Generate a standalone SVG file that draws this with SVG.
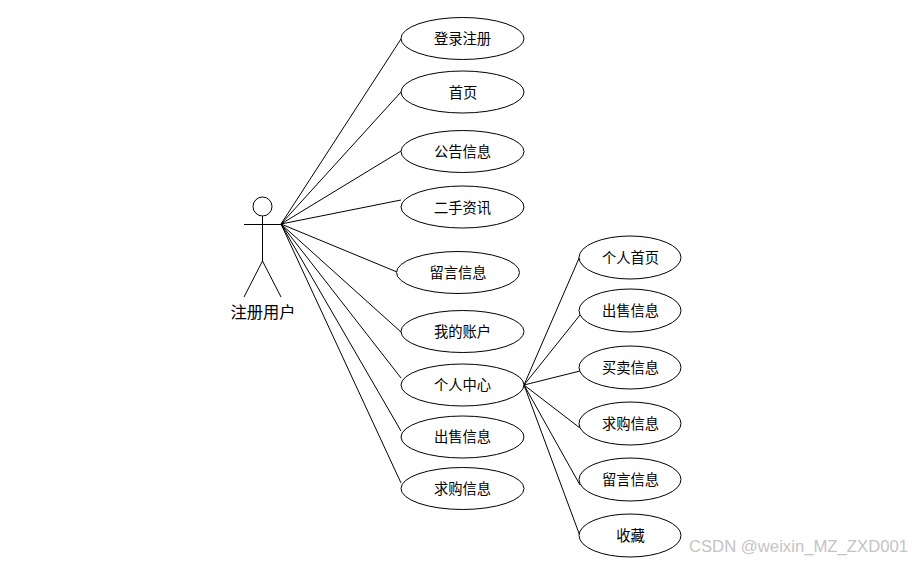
<svg xmlns="http://www.w3.org/2000/svg" width="912" height="562" viewBox="0 0 912 562">
<style>
text{font-family:"Liberation Sans","Noto Sans CJK SC",sans-serif;fill:#000;text-anchor:middle}
.n text{font-size:14.300px}
ellipse{fill:#fff;stroke:#000;stroke-width:1}
.l line,.a line,.a circle{stroke:#000;stroke-width:1;fill:#fff}
</style>
<rect width="912" height="562" fill="#fff"/>
<g id="connectors" class="l">
<line x1="281" y1="224" x2="401" y2="39"/>
<line x1="281" y1="224" x2="401" y2="92"/>
<line x1="281" y1="224" x2="401" y2="151"/>
<line x1="281" y1="224" x2="401" y2="200"/>
<line x1="281" y1="224" x2="397" y2="272"/>
<line x1="281" y1="224" x2="401" y2="332"/>
<line x1="281" y1="224" x2="401" y2="378"/>
<line x1="281" y1="224" x2="401" y2="431"/>
<line x1="281" y1="224" x2="401" y2="483"/>
<line x1="524" y1="385" x2="580" y2="256"/>
<line x1="524" y1="385" x2="580" y2="315"/>
<line x1="524" y1="385" x2="580" y2="371"/>
<line x1="524" y1="385" x2="580" y2="428"/>
<line x1="524" y1="385" x2="580" y2="485"/>
<line x1="524" y1="385" x2="580" y2="536"/>
</g>
<g id="actor" class="a">
<circle cx="262.500" cy="206.500" r="9.500"/>
<line x1="262.500" y1="216" x2="262.500" y2="261"/>
<line x1="244" y1="224.500" x2="281" y2="224.500"/>
<line x1="262.500" y1="261" x2="244" y2="297"/>
<line x1="262.500" y1="261" x2="281" y2="297"/>
<text x="263" y="318" style="font-size:16.300px;stroke:none;fill:#000">注册用户</text>
</g>
<g id="n1" class="n"><ellipse cx="462.500" cy="38.500" rx="61.500" ry="21"/><text x="462.500" y="44">登录注册</text></g>
<g id="n2" class="n"><ellipse cx="462.500" cy="92" rx="61.500" ry="21"/><text x="463" y="98">首页</text></g>
<g id="n3" class="n"><ellipse cx="462.500" cy="151.500" rx="61.500" ry="21"/><text x="462.500" y="157">公告信息</text></g>
<g id="n4" class="n"><ellipse cx="462.500" cy="207" rx="61.500" ry="21"/><text x="462.500" y="213">二手资讯</text></g>
<g id="n5" class="n"><ellipse cx="458" cy="272.500" rx="61.500" ry="21"/><text x="458" y="278">留言信息</text></g>
<g id="n6" class="n"><ellipse cx="462.500" cy="331.500" rx="61.500" ry="21"/><text x="462.500" y="337">我的账户</text></g>
<g id="n7" class="n"><ellipse cx="462.500" cy="385" rx="61.500" ry="21"/><text x="462.500" y="390">个人中心</text></g>
<g id="n8" class="n"><ellipse cx="462.500" cy="437" rx="61.500" ry="21"/><text x="462.500" y="442">出售信息</text></g>
<g id="n9" class="n"><ellipse cx="462.500" cy="488.500" rx="61.500" ry="21"/><text x="462.500" y="494">求购信息</text></g>
<g id="m1" class="n"><ellipse cx="630" cy="257.500" rx="51" ry="21.500"/><text x="630.500" y="263">个人首页</text></g>
<g id="m2" class="n"><ellipse cx="630" cy="310.500" rx="51" ry="21.500"/><text x="630.500" y="316">出售信息</text></g>
<g id="m3" class="n"><ellipse cx="630" cy="367.500" rx="51" ry="21.500"/><text x="630.500" y="373">买卖信息</text></g>
<g id="m4" class="n"><ellipse cx="630" cy="423.500" rx="51" ry="21.500"/><text x="630.500" y="429">求购信息</text></g>
<g id="m5" class="n"><ellipse cx="630" cy="479.500" rx="51" ry="21.500"/><text x="630.500" y="485">留言信息</text></g>
<g id="m6" class="n"><ellipse cx="630" cy="535.500" rx="51" ry="21.500"/><text x="630.500" y="541">收藏</text></g>
<text x="798.500" y="552" style="font-size:16.700px;fill:#c4c4c4">CSDN @weixin_MZ_ZXD001</text>
</svg>
